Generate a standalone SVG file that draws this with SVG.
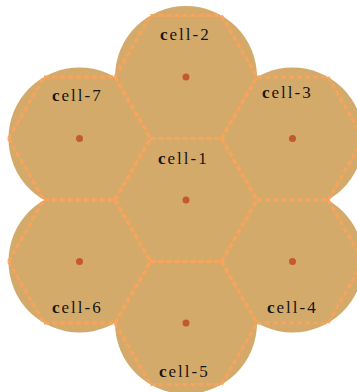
<svg xmlns="http://www.w3.org/2000/svg" width="357" height="392" viewBox="0 0 357 392">
<style>
.bg{fill:#D4AA6A;stroke:none}
.hex{fill:none;stroke:#F9A45C;stroke-width:3;stroke-dasharray:5 3}
.dot{fill:#C25A2E}
.lbl{font-family:'Liberation Serif','Times New Roman',serif;font-size:17px;letter-spacing:2px;fill:#151515}
.b{font-weight:bold}
</style>
<defs>
<path id="hx" d="M-71,0 L-35.5,-61.5 M-35.5,-61.5 L35.5,-61.5 M35.5,-61.5 L71,0 M-71,0 L-35.5,61.5 M-35.5,61.5 L35.5,61.5 M35.5,61.5 L71,0"/>
</defs>
<rect width="357" height="392" fill="#ffffff"/>
<g id="discs">
<circle class="bg" cx="186" cy="200" r="71"/>
<circle class="bg" cx="186" cy="77" r="71"/>
<circle class="bg" cx="292.5" cy="138.5" r="71"/>
<circle class="bg" cx="292.5" cy="261.5" r="71"/>
<circle class="bg" cx="186" cy="323" r="71"/>
<circle class="bg" cx="79.5" cy="261.5" r="71"/>
<circle class="bg" cx="79.5" cy="138.5" r="71"/>
</g>
<g id="connectors"></g>
<g id="cell-1">
<use href="#hx" class="hex" transform="translate(186,200)"/>
<circle class="dot" cx="186" cy="200" r="3.5"/>
<text class="lbl" x="158" y="164"><tspan class="b">c</tspan>ell-1</text>
</g>
<g id="cell-2">
<use href="#hx" class="hex" transform="translate(186,77)"/>
<circle class="dot" cx="186" cy="77" r="3.5"/>
<text class="lbl" x="160" y="40"><tspan class="b">c</tspan>ell-2</text>
</g>
<g id="cell-3">
<use href="#hx" class="hex" transform="translate(292.5,138.5)"/>
<circle class="dot" cx="292.5" cy="138.5" r="3.5"/>
<text class="lbl" x="262" y="98"><tspan class="b">c</tspan>ell-3</text>
</g>
<g id="cell-4">
<use href="#hx" class="hex" transform="translate(292.5,261.5)"/>
<circle class="dot" cx="292.5" cy="261.5" r="3.5"/>
<text class="lbl" x="267" y="313"><tspan class="b">c</tspan>ell-4</text>
</g>
<g id="cell-5">
<use href="#hx" class="hex" transform="translate(186,323)"/>
<circle class="dot" cx="186" cy="323" r="3.5"/>
<text class="lbl" x="159" y="377"><tspan class="b">c</tspan>ell-5</text>
</g>
<g id="cell-6">
<use href="#hx" class="hex" transform="translate(79.5,261.5)"/>
<circle class="dot" cx="79.5" cy="261.5" r="3.5"/>
<text class="lbl" x="52" y="313"><tspan class="b">c</tspan>ell-6</text>
</g>
<g id="cell-7">
<use href="#hx" class="hex" transform="translate(79.5,138.5)"/>
<circle class="dot" cx="79.5" cy="138.5" r="3.5"/>
<text class="lbl" x="52" y="101"><tspan class="b">c</tspan>ell-7</text>
</g>
</svg>
